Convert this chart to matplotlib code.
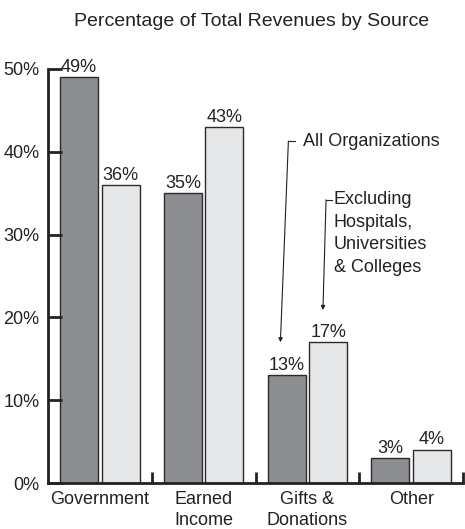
import matplotlib

matplotlib.use("Agg")

import matplotlib.pyplot as plt
import numpy as np

# data
categories = ["Government", "Earned\nIncome", "Gifts &\nDonations", "Other"]
all_orgs = [49, 35, 13, 3]
excl_hosp = [36, 43, 17, 4]
y_ticks = [0, 10, 20, 30, 40, 50]

DARK = "#8d8e91"
LIGHT = "#e6e7e8"
EDGE = "#2a2a2a"
INK = "#222222"

plt.rcParams["font.family"] = ["Liberation Sans", "DejaVu Sans"]
plt.rcParams["font.size"] = 13

fig = plt.figure(figsize=(4.65, 5.29), dpi=100)
ax = fig.add_axes([48 / 465, 46 / 529, 415 / 465, 414 / 529])

x = np.arange(len(categories))
w = 0.365
off = 0.2
b1 = ax.bar(x - off, all_orgs, w, color=DARK, edgecolor=EDGE, linewidth=1.0)
b2 = ax.bar(x + off, excl_hosp, w, color=LIGHT, edgecolor=EDGE, linewidth=1.0)
ax.bar_label(b1, labels=[f"{v}%" for v in all_orgs], padding=1, fontsize=13, color=INK)
ax.bar_label(b2, labels=[f"{v}%" for v in excl_hosp], padding=1, fontsize=13, color=INK)

ax.set_xlim(-0.5, 3.5)
ax.set_ylim(0, 50)
ax.set_yticks(y_ticks)
ax.set_yticklabels([f"{t}%" for t in y_ticks])

# category labels under each group, ticks at the group borders
ax.set_xticks(x + 0.5)
ax.set_xticklabels([])
for xi, lab in zip(x, categories):
    ax.text(xi, -1.0, lab, ha="center", va="top", fontsize=13,
            linespacing=1.25, color=INK)

for s in ["top", "right"]:
    ax.spines[s].set_visible(False)
for s in ["left", "bottom"]:
    ax.spines[s].set_linewidth(2.0)
    ax.spines[s].set_color(INK)
ax.tick_params(axis="y", direction="in", length=10, width=2, pad=6,
               labelsize=13, colors=INK)
ax.tick_params(axis="x", direction="in", length=8, width=2, colors=INK)

# annotations
ax.annotate("", xy=(1.74, 17.0), xytext=(1.817, 41.3),
            arrowprops=dict(arrowstyle="-|>", lw=0.8, color=INK,
                            mutation_scale=6, shrinkA=0, shrinkB=0))
ax.plot([1.817, 1.88], [41.3, 41.3], color=INK, lw=0.8)
ax.text(1.96, 41.3, "All Organizations", ha="left", va="center",
        fontsize=13, color=INK)

ax.annotate("", xy=(2.15, 20.9), xytext=(2.18, 34.2),
            arrowprops=dict(arrowstyle="-|>", lw=0.8, color=INK,
                            mutation_scale=6, shrinkA=0, shrinkB=0))
ax.plot([2.18, 2.235], [34.2, 34.2], color=INK, lw=0.8)
ax.text(2.255, 35.3, "Excluding\nHospitals,\nUniversities\n& Colleges",
        ha="left", va="top", fontsize=13, linespacing=1.45, color=INK)

fig.text(252 / 465, 1 - 22 / 529, "Percentage of Total Revenues by Source",
         ha="center", va="center", fontsize=14, color=INK)

fig.savefig("out.png", dpi=100)
